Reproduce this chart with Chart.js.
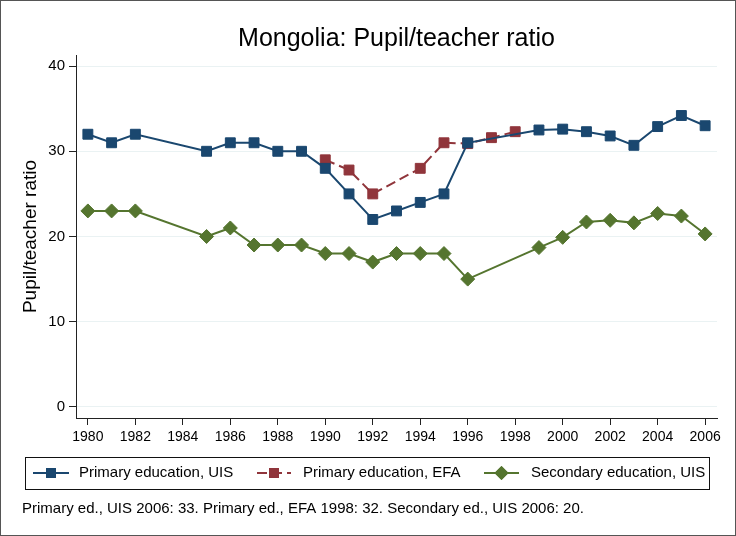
<!DOCTYPE html>
<html>
<head>
<meta charset="utf-8">
<script src="https://cdn.jsdelivr.net/npm/chart.js@4.4.0/dist/chart.umd.min.js"></script>
<style>
  html, body { margin: 0; padding: 0; background: #fff; }
</style>
</head>
<body>
<canvas id="chart" width="736" height="536"></canvas>
<script>
const FONT = '"Liberation Sans", Arial, Helvetica, sans-serif';

const uisYears = [1980, 1981, 1982, 1985, 1986, 1987, 1988, 1989, 1990, 1991, 1992, 1993, 1994, 1995, 1996,
    1999, 2000, 2001, 2002, 2003, 2004, 2005, 2006];
const uisValues = [32, 31, 32, 30, 31, 31, 30, 30, 28, 25, 22, 23, 24, 25, 31,
    32.5, 32.6, 32.3, 31.8, 30.7, 32.9, 34.2, 33];

const efaYears = [1990, 1991, 1992, 1994, 1995, 1996, 1997, 1998];
const efaValues = [29, 27.8, 25, 28, 31, 30.9, 31.6, 32.3];

const secYears = [1980, 1981, 1982, 1985, 1986, 1987, 1988, 1989, 1990, 1991, 1992, 1993, 1994, 1995, 1996,
    1999, 2000, 2001, 2002, 2003, 2004, 2005, 2006];
const secValues = [23, 23, 23, 20, 21, 19, 19, 19, 18, 18, 17, 18, 18, 18, 15,
    18.7, 19.9, 21.7, 21.9, 21.6, 22.7, 22.4, 20.3];

const xTicks = [1980, 1982, 1984, 1986, 1988, 1990, 1992, 1994, 1996, 1998, 2000, 2002, 2004, 2006];
const yTicks = [0, 10, 20, 30, 40];

const LABELS = ['Primary education, UIS', 'Primary education, EFA', 'Secondary education, UIS'];
const COLORS = ['rgb(26,71,111)', 'rgb(144,53,59)', 'rgb(85,117,47)'];
const NOTE = 'Primary ed., UIS 2006: 33. Primary ed., EFA 1998: 32. Secondary ed., UIS 2006: 20.';

function toPoints(xs, ys) {
    return xs.map((x, i) => ({x: x, y: ys[i]}));
}

function initDataset(label, color, data, style, dash) {
    return {
        label: label,
        data: data,
        borderColor: color,
        backgroundColor: color,
        borderWidth: 2,
        borderDash: dash,
        pointStyle: style,
        pointRadius: 7,
        pointHoverRadius: 7,
        pointBorderWidth: 1,
        pointBorderColor: color,
        pointBackgroundColor: color,
        tension: 0
    };
}

// legend box and note below the plot, Stata style
const legendAndNote = {
    id: 'legendAndNote',
    afterDraw(chart) {
        const ctx = chart.ctx;
        ctx.save();
        // outer frame
        ctx.strokeStyle = '#555';
        ctx.lineWidth = 1;
        ctx.strokeRect(0.5, 0.5, 735, 535);

        // legend frame
        ctx.strokeStyle = '#111';
        ctx.strokeRect(25.5, 457.5, 684, 32);

        const y = 473;
        const keys = [
            {x0: 33, x1: 69, text: 79},
            {x0: 257, x1: 291, text: 303},
            {x0: 484, x1: 519, text: 531}
        ];
        chart.data.datasets.forEach((ds, i) => {
            const k = keys[i];
            ctx.strokeStyle = ds.borderColor;
            ctx.lineWidth = 2;
            ctx.setLineDash(ds.borderDash || []);
            ctx.beginPath();
            ctx.moveTo(k.x0, y);
            ctx.lineTo(k.x1, y);
            ctx.stroke();
            ctx.setLineDash([]);
            ctx.fillStyle = ds.backgroundColor;
            Chart.helpers.drawPoint(ctx, {pointStyle: ds.pointStyle, radius: ds.pointRadius, borderWidth: 0},
                (k.x0 + k.x1) / 2, y);
            ctx.fill();
            ctx.fillStyle = '#000';
            ctx.font = '15px ' + FONT;
            ctx.textBaseline = 'middle';
            ctx.textAlign = 'left';
            ctx.fillText(ds.label, k.text, y);
        });

        ctx.fillStyle = '#000';
        ctx.font = '15px ' + FONT;
        ctx.textBaseline = 'alphabetic';
        ctx.fillText(NOTE, 22, 513);
        ctx.restore();
    }
};

new Chart(document.getElementById('chart'), {
    type: 'line',
    data: {
        datasets: [
            initDataset(LABELS[0], COLORS[0], toPoints(uisYears, uisValues), 'rect', []),
            initDataset(LABELS[1], COLORS[1], toPoints(efaYears, efaValues), 'rect', [10, 5]),
            initDataset(LABELS[2], COLORS[2], toPoints(secYears, secValues), 'rectRot', [])
        ]
    },
    plugins: [legendAndNote],
    options: {
        responsive: false,
        devicePixelRatio: 1,
        animation: false,
        layout: {padding: {left: 0, right: 19, top: 0, bottom: 82}},
        plugins: {
            legend: {display: false},
            tooltip: {enabled: false},
            title: {
                display: true,
                text: 'Mongolia: Pupil/teacher ratio',
                fullSize: false,
                color: '#000',
                font: {family: FONT, size: 25, weight: 'normal'},
                padding: {top: 24, bottom: 1}
            }
        },
        scales: {
            x: {
                type: 'linear',
                min: 1979.5,
                max: 2006.5,
                afterFit(scale) { scale.height = 36; },
                afterBuildTicks(scale) { scale.ticks = xTicks.map(v => ({value: v})); },
                grid: {drawOnChartArea: false, tickLength: 7, tickColor: '#222', tickWidth: 1},
                border: {display: true, color: '#222', width: 1},
                ticks: {
                    color: '#000',
                    padding: 4,
                    maxRotation: 0,
                    autoSkip: false,
                    font: {family: FONT, size: 14},
                    callback: v => String(v)
                }
            },
            y: {
                min: -1.3,
                max: 41.3,
                afterFit(scale) { scale.width = 76; },
                afterBuildTicks(scale) { scale.ticks = yTicks.map(v => ({value: v})); },
                grid: {color: 'rgb(234,242,243)', lineWidth: 1, tickLength: 7, tickColor: '#222', tickWidth: 1},
                border: {display: true, color: '#222', width: 1},
                title: {
                    display: true,
                    text: 'Pupil/teacher ratio',
                    color: '#000',
                    font: {family: FONT, size: 19},
                    padding: {top: 19, bottom: 0}
                },
                ticks: {
                    color: '#000',
                    padding: 4,
                    font: {family: FONT, size: 15},
                    callback: v => String(v)
                }
            }
        }
    }
});
</script>
</body>
</html>
